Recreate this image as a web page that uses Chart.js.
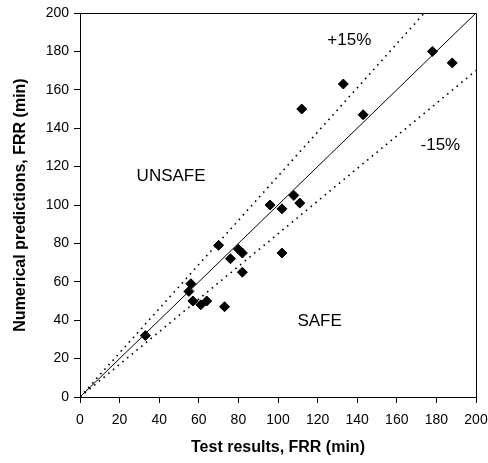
<!DOCTYPE html>
<html>
<head>
<meta charset="utf-8">
<script src="https://cdn.jsdelivr.net/npm/chart.js@4/dist/chart.umd.min.js"></script>
<style>
  html, body { margin: 0; padding: 0; background: #fff; }
  #wrap { width: 488px; height: 463px; }
</style>
</head>
<body>
<div id="wrap"><canvas id="c" width="488" height="463"></canvas></div>
<script>
// Test results (x) and numerical predictions (y), FRR in minutes
const testResults = [33, 55, 56, 57, 61, 64, 73, 70, 76, 80, 82, 82, 96, 102, 108, 111, 102, 112, 133, 143, 178, 188];
const predictions = [32, 55, 59, 50, 48, 50, 47, 79, 72, 77, 75, 65, 100, 98, 105, 101, 75, 150, 163, 147, 180, 174];
const refX = [0, 200];
const refFactors = [1, 1.15, 0.85];
const tickValues = [0, 20, 40, 60, 80, 100, 120, 140, 160, 180, 200];
const annotations = [
  { text: '+15%', x: 136, y: 186 },
  { text: '-15%', x: 182, y: 131 },
  { text: 'UNSAFE', x: 46, y: 115 },
  { text: 'SAFE', x: 121, y: 39.5 }
];

const FONT = "'Liberation Sans', Arial, sans-serif";
const pts = testResults.map((x, i) => ({ x: x, y: predictions[i] }));
const refLine = f => refX.map(x => ({ x: x, y: f * x }));

const boxPlugin = {
  id: 'boxAndText',
  afterDatasetsDraw(chart) {
    const { ctx, chartArea: a, scales } = chart;
    ctx.save();
    ctx.strokeStyle = '#000';
    ctx.lineWidth = 1;
    ctx.beginPath();
    ctx.moveTo(Math.round(a.left) + 0.5, Math.round(a.top) + 0.5);
    ctx.lineTo(Math.round(a.right) + 0.5, Math.round(a.top) + 0.5);
    ctx.lineTo(Math.round(a.right) + 0.5, Math.round(a.bottom) + 0.5);
    ctx.stroke();
    ctx.fillStyle = '#000';
    ctx.font = '17px ' + FONT;
    ctx.textAlign = 'center';
    ctx.textBaseline = 'middle';
    annotations.forEach(t => {
      ctx.fillText(t.text, scales.x.getPixelForValue(t.x), scales.y.getPixelForValue(t.y));
    });
    ctx.restore();
  }
};

new Chart(document.getElementById('c'), {
  type: 'scatter',
  data: {
    datasets: [
      {
        type: 'line', data: refLine(refFactors[0]), borderColor: '#000', borderWidth: 1,
        pointRadius: 0, fill: false, order: 3
      },
      {
        type: 'line', data: refLine(refFactors[1]), borderColor: '#000', borderWidth: 1.6,
        borderDash: [1.6, 4.5], pointRadius: 0, fill: false, order: 3
      },
      {
        type: 'line', data: refLine(refFactors[2]), borderColor: '#000', borderWidth: 1.6,
        borderDash: [1.6, 4.5], pointRadius: 0, fill: false, order: 3
      },
      {
        data: pts, pointStyle: 'rectRot', pointRadius: 5, borderWidth: 1,
        backgroundColor: '#000', borderColor: '#000', order: 1
      }
    ]
  },
  options: {
    responsive: false,
    animation: false,
    devicePixelRatio: 1,
    layout: { padding: { top: 13, right: 12, left: 0, bottom: 0 } },
    plugins: { legend: { display: false }, tooltip: { enabled: false } },
    scales: {
      x: {
        type: 'linear', min: 0, max: 200,
        afterBuildTicks: s => { s.ticks = tickValues.map(v => ({ value: v })); },
        afterFit: s => { s.height = 66; s.paddingLeft = 0; s.paddingRight = 0; },
        grid: { drawOnChartArea: false, tickLength: 6, color: '#000', lineWidth: 1 },
        border: { color: '#000', width: 1 },
        ticks: { color: '#000', font: { family: FONT, size: 14 }, padding: 9, maxRotation: 0, autoSkip: false },
        title: { display: true, text: 'Test results, FRR (min)', color: '#000',
                 font: { family: FONT, size: 16, weight: 'bold' }, padding: { top: 0, bottom: 6 } }
      },
      y: {
        type: 'linear', min: 0, max: 200,
        afterBuildTicks: s => { s.ticks = tickValues.map(v => ({ value: v })); },
        afterFit: s => { s.width = 80; s.paddingTop = 0; s.paddingBottom = 0; },
        grid: { drawOnChartArea: false, tickLength: 6, color: '#000', lineWidth: 1 },
        border: { color: '#000', width: 1 },
        ticks: { color: '#000', font: { family: FONT, size: 14 }, padding: 5, autoSkip: false },
        title: { display: true, text: 'Numerical predictions, FRR (min)', color: '#000',
                 font: { family: FONT, size: 16, weight: 'bold' }, padding: { top: 11, bottom: 0 } }
      }
    }
  },
  plugins: [boxPlugin]
});
</script>
</body>
</html>
